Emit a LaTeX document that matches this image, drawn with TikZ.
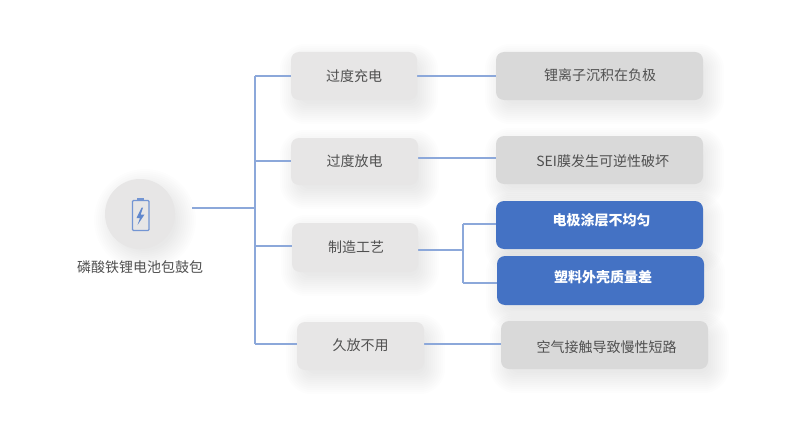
\documentclass[tikz,border=0pt]{standalone}
\usepackage{fontspec}
\setmainfont{Noto Sans CJK SC}
\usetikzlibrary{backgrounds,calc}
\definecolor{gfill}{HTML}{E7E6E6}
\definecolor{dfill}{HTML}{D9D9D9}
\definecolor{bfill}{HTML}{4472C4}
\definecolor{linec}{HTML}{8CA8DA}
\definecolor{txtc}{HTML}{505050}
\newcommand{\tx}[3]{\hspace*{\dimexpr 2\dimexpr #1pt\relax\relax}\smash{\raisebox{\dimexpr #2pt-5pt\relax}{#3}}}
\newcommand{\softshadow}[1]{%
  \begin{scope}[on background layer]
    \foreach \e in {16,14,12,10,8,6,4,2,0,-2,-4}{
      \fill[black,opacity=0.009,rounded corners={10pt+max(\e,0)*1pt}]
        ($(#1.south west)+(5pt-\e pt,-8pt-\e pt)$) rectangle ($(#1.north east)+(5pt+\e pt,-8pt+\e pt)$);
    }
  \end{scope}}
\newcommand{\softround}[1]{%
  \begin{scope}[on background layer]
    \foreach \e in {16,14,12,10,8,6,4,2,0,-2,-4}{
      \fill[black,opacity=0.009] ($(#1.center)+(5pt,-6pt)$) circle[radius={35pt+\e pt}];
    }
  \end{scope}}
\tikzset{
  x=1pt,y=-1pt,
  boxbase/.style={rectangle,rounded corners=8pt,inner sep=0pt,font=\fontsize{14}{16}\selectfont},
  gbox/.style={boxbase,fill=gfill,text=txtc},
  dbox/.style={boxbase,fill=dfill,text=txtc},
  bbox/.style={boxbase,fill=bfill,text=white,font=\fontsize{14}{16}\selectfont\bfseries},
  conn/.style={draw=linec,line width=1.4pt},
  iconline/.style={draw=bfill!75!white,line width=1.1pt}
}
\begin{document}
\begin{tikzpicture}
\useasboundingbox (0,0) rectangle (789,420);
\begin{scope}[on background layer]
\fill[white] (0,0) rectangle (789,420);
\end{scope}
% free ends of connectors
\coordinate (rootout) at (192,208);
\coordinate (trunkmid) at (255,208);
\coordinate (trunktop) at (255,76);
\coordinate (trunka2) at (255,161);
\coordinate (trunka3) at (255,246);
\coordinate (trunkbot) at (255,344);
\coordinate (fork) at (463,250);
\coordinate (forktop) at (463,224);
\coordinate (forkbot) at (463,283);
\coordinate (a2out) at (418,158);
\coordinate (a3out) at (418,250);
% root
\node[circle,fill=gfill,minimum size=70pt,inner sep=0pt] (root) at (140,214) {};
\node[text=txtc,font=\fontsize{14}{16}\selectfont,inner sep=0pt] (rootlabel) at (140,267) {磷酸铁锂电池包鼓包};
% level 1
\node[gbox,minimum width=126pt,minimum height=48pt] (A1) at (354,76) {\tx{0}{-0.7}{过度充电}};
\node[gbox,minimum width=127pt,minimum height=47pt] (A2) at (354.5,161.5) {\tx{0.2}{-0.2}{过度放电}};
\node[gbox,minimum width=126pt,minimum height=49pt] (A3) at (355,247.5) {\tx{1}{0.5}{制造工艺}};
\node[gbox,minimum width=127pt,minimum height=48pt] (A4) at (360.5,346) {\tx{0.2}{0.3}{久放不用}};
% level 2
\node[dbox,minimum width=207pt,minimum height=48pt] (B1) at (599.5,76) {\tx{0.5}{1}{锂离子沉积在负极}};
\node[dbox,minimum width=207pt,minimum height=48pt] (B2) at (599.5,160) {\tx{3.2}{-1.7}{SEI膜发生可逆性破坏}};
\node[bbox,minimum width=207pt,minimum height=48pt] (B3) at (599.5,225) {\tx{2.2}{4.3}{电极涂层不均匀}};
\node[bbox,minimum width=207pt,minimum height=49pt] (B4) at (600.5,280.5) {\tx{2.5}{3.5}{塑料外壳质量差}};
\node[dbox,minimum width=207pt,minimum height=48pt] (B5) at (604.5,345) {\tx{2.2}{-2}{空气接触导致慢性短路}};
% shadows
\softround{root}
\softshadow{A1}\softshadow{A2}\softshadow{A3}\softshadow{A4}
\softshadow{B1}\softshadow{B2}\softshadow{B3}\softshadow{B4}\softshadow{B5}
% connectors
\begin{scope}[on background layer]
\draw[conn] (rootout) -- (trunkmid);
\draw[conn] (trunktop) -- (trunkbot);
\draw[conn] (trunktop) -- (A1.west);
\draw[conn] (trunka2) -- (A2.west |- trunka2);
\draw[conn] (trunka3) -- (A3.west |- trunka3);
\draw[conn] (trunkbot) -- (A4.west |- trunkbot);
\draw[conn] (A1.east) -- (B1.west);
\draw[conn] (a2out) -- (B2.west |- a2out);
\draw[conn] (a3out) -- (fork);
\draw[conn] (forktop) -- (forkbot);
\draw[conn] (forktop) -- (B3.west |- forktop);
\draw[conn] (forkbot) -- (B4.west |- forkbot);
\draw[conn] (A4.east |- trunkbot) -- (B5.west |- trunkbot);
\end{scope}
% battery icon
\draw[iconline,rounded corners=1pt] (132.5,200.5) rectangle (149,230.5);
\fill[bfill!75!white] (137,198) rectangle (144,200.5);
\fill[bfill!85!white] (141.7,207.5) -- (136.5,218) -- (140,218) -- (137.5,225) -- (144.5,214.5) -- (140.7,214.5) -- (143,207.5) -- cycle;
\end{tikzpicture}
\end{document}
